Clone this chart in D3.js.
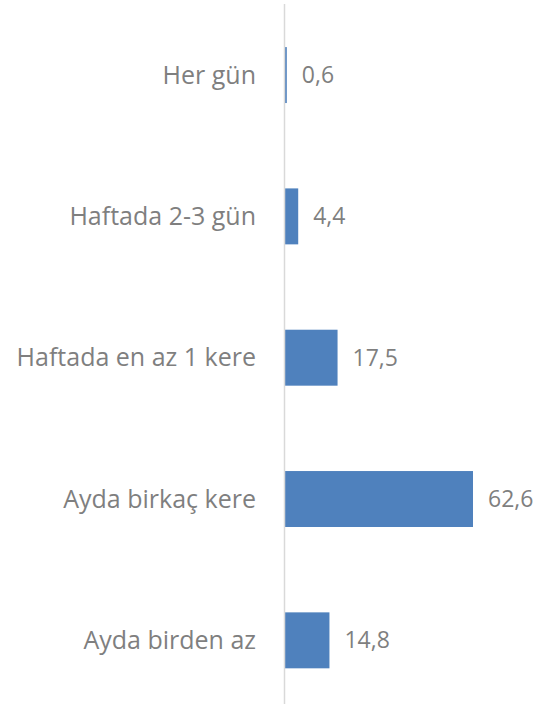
<html>

<head>
    <meta charset="utf-8">
    <script src="https://d3js.org/d3.v7.min.js"></script>
</head>

<body style="margin:0;background:white">
    <svg></svg>
    <script>
        const categories = ["Her gün", "Haftada 2-3 gün", "Haftada en az 1 kere", "Ayda birkaç kere", "Ayda birden az"]
        const values = [0.6, 4.4, 17.5, 62.6, 14.8]

        const width = 541
        const height = 704
        const axisX = 285
        const barColor = "#4f81bd"
        const textColor = "#7f7f7f"
        const fontFamily = "'Open Sans', 'Noto Sans', sans-serif"

        const xScale = d3.scaleLinear().domain([0, 62.6]).range([axisX, 473])
        const yScale = d3.scaleBand().domain(categories).range([4.4, 711]).paddingInner(0.604).paddingOuter(0.302)

        const svg = d3.select("svg")
            .attr("width", width)
            .attr("height", height)
            .attr("viewBox", [0, 0, width, height])

        // bars
        svg.append("g")
            .selectAll("rect")
            .data(categories)
            .join("rect")
            .attr("x", xScale(0))
            .attr("y", d => yScale(d))
            .attr("width", (d, i) => xScale(values[i]) - xScale(0))
            .attr("height", yScale.bandwidth())
            .attr("fill", barColor)

        // vertical axis line
        svg.append("line")
            .attr("x1", axisX - 0.5).attr("x2", axisX - 0.5)
            .attr("y1", 4).attr("y2", height)
            .attr("stroke", "#d9d9d9")
            .attr("stroke-width", 1.5)

        // category labels
        svg.append("g")
            .selectAll("text")
            .data(categories)
            .join("text")
            .attr("x", 256)
            .attr("y", d => yScale(d) + yScale.bandwidth() / 2)
            .attr("dy", "0.35em")
            .attr("text-anchor", "end")
            .attr("fill", textColor)
            .attr("font-family", fontFamily)
            .attr("font-size", 25)
            .text(d => d)

        // value labels
        svg.append("g")
            .selectAll("text")
            .data(categories)
            .join("text")
            .attr("x", (d, i) => xScale(values[i]) + 15)
            .attr("y", d => yScale(d) + yScale.bandwidth() / 2)
            .attr("dy", "0.35em")
            .attr("fill", textColor)
            .attr("font-family", fontFamily)
            .attr("font-size", 23)
            .text((d, i) => values[i].toString().replace(".", ","))
    </script>
</body>

</html>
